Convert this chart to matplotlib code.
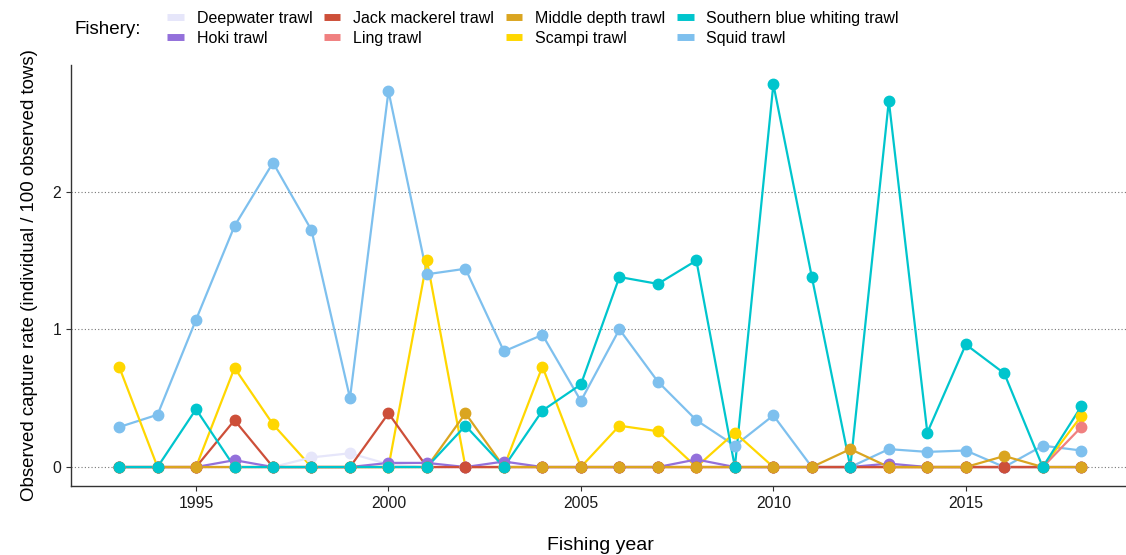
import matplotlib.pyplot as plt
from matplotlib.lines import Line2D
import numpy as np

plt.rcParams['font.family'] = ['Liberation Sans', 'DejaVu Sans']

years = np.arange(1993, 2019)

deepwater = [0, 0, 0, 0, 0, 0.07, 0.10, 0.02, 0, 0, 0, 0, 0,
             0, 0, 0, 0, 0, 0, 0, 0, 0, 0, 0, 0, 0]
hoki = [0, 0, 0, 0.05, 0, 0, 0, 0.03, 0.03, 0, 0.04, 0, 0,
        0, 0, 0.055, 0, 0, 0, 0, 0.025, 0, 0, 0, 0, 0]
jack_mackerel = [0, 0, 0, 0.34, 0, 0, 0, 0.39, 0, 0, 0, 0, 0,
                 0, 0, 0, 0, 0, 0, 0, 0, 0, 0, 0, 0, 0]
ling = [0, 0, 0, 0, 0, 0, 0, 0, 0, 0, 0, 0, 0,
        0, 0, 0, 0, 0, 0, 0, 0, 0, 0, 0, 0, 0.29]
middle_depth = [0, 0, 0, 0, 0, 0, 0, 0, 0, 0.39, 0, 0, 0,
                0, 0, 0, 0, 0, 0, 0.13, 0, 0, 0, 0.08, 0, 0]
scampi = [0.73, 0, 0, 0.72, 0.31, 0, 0, 0, 1.50, 0, 0, 0.73, 0,
          0.30, 0.26, 0, 0.25, 0, 0, 0, 0, 0, 0, 0, 0, 0.37]
sbw = [0, 0, 0.42, 0, 0, 0, 0, 0, 0, 0.30, 0, 0.41, 0.60,
       1.38, 1.33, 1.50, 0, 2.78, 1.38, 0, 2.66, 0.25, 0.89, 0.68, 0, 0.44]
squid = [0.29, 0.38, 1.07, 1.75, 2.21, 1.72, 0.50, 2.73, 1.40, 1.44, 0.84, 0.96, 0.48,
         1.00, 0.62, 0.34, 0.155, 0.375, 0, 0, 0.13, 0.11, 0.12, 0, 0.155, 0.12]

names = ['Deepwater trawl', 'Hoki trawl', 'Jack mackerel trawl', 'Ling trawl',
         'Middle depth trawl', 'Scampi trawl', 'Southern blue whiting trawl', 'Squid trawl']
colors = ['#E6E6FA', '#9370DB', '#CD4F39', '#F08080',
          '#DAA520', '#FFD700', '#00C5CD', '#7EC0EE']
series = [deepwater, hoki, jack_mackerel, ling, middle_depth, scampi, sbw, squid]

# drawing order (back to front)
order = [7, 5, 0, 3, 1, 2, 4, 6]

fig = plt.figure(figsize=(11.26, 5.55), dpi=100)
ax = fig.add_axes([0.063, 0.124, 0.94, 0.759])

for k, i in enumerate(order):
    ax.plot(years, series[i], color=colors[i], lw=1.6, zorder=2 + k * 0.01)
for k, i in enumerate(order):
    ax.plot(years, series[i], 'o', color=colors[i], ms=7.5, zorder=3 + k * 0.01)

ax.set_xlim(1991.75, 2019.25)
ax.set_ylim(-0.139, 2.92)
ax.set_xticks([1995, 2000, 2005, 2010, 2015])
ax.set_yticks([0, 1, 2])
ax.yaxis.grid(True, linestyle=(0, (1, 2)), color='#777777', lw=0.8)
ax.set_axisbelow(True)
for s in ['top', 'right']:
    ax.spines[s].set_visible(False)
for s in ['left', 'bottom']:
    ax.spines[s].set_color('#333333')
    ax.spines[s].set_linewidth(1.0)
ax.tick_params(axis='both', length=3.5, color='#333333', labelsize=11.3,
               labelcolor='#1a1a1a', width=0.8)
ax.set_xlabel('Fishing year', fontsize=14, labelpad=19)
ax.set_ylabel('Observed capture rate (individual / 100 observed tows)', fontsize=13.4, labelpad=10)

handles = [Line2D([], [], color=c, lw=5, solid_capstyle='butt') for c in colors]
fig.text(0.066, 0.947, 'Fishery:', fontsize=13.5, va='center', ha='left')
fig.legend(handles, names, ncol=4, loc='upper left', bbox_to_anchor=(0.1483, 0.981),
           frameon=False, fontsize=11.5, handlelength=1.05,
           handletextpad=0.8, columnspacing=0.72, labelspacing=0.32,
           borderaxespad=0, borderpad=0)

fig.savefig('out.png', dpi=100)
